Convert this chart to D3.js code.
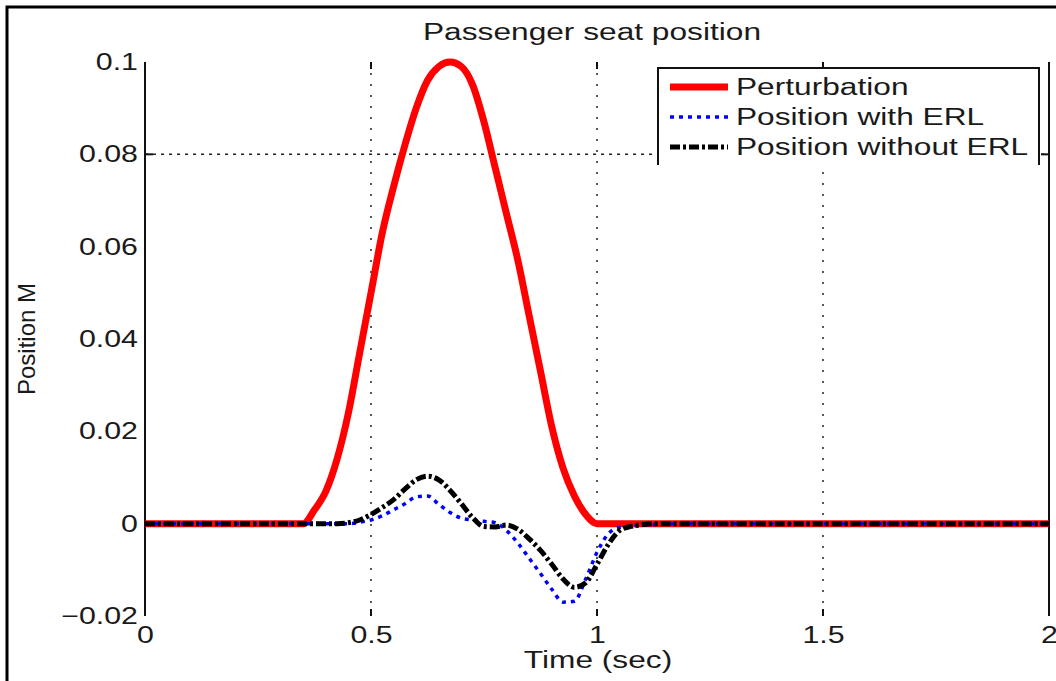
<!DOCTYPE html>
<html><head><meta charset="utf-8">
<script src="https://cdn.jsdelivr.net/npm/d3@7"></script>
<style>
html,body{margin:0;padding:0;background:#fff;}
svg{display:block;}
text{font-family:"Liberation Sans", Arial, Helvetica, sans-serif;fill:#1a1a1a;}
</style>
</head><body>
<svg id="chart" width="1056" height="681"></svg>
<script>
// ---- data ----
const time = [0, 0.1, 0.2, 0.3, 0.35, 0.375, 0.4, 0.425, 0.45, 0.475, 0.5, 0.525, 0.55, 0.575, 0.6, 0.625, 0.65, 0.675, 0.7, 0.725, 0.75, 0.775, 0.8, 0.825, 0.85, 0.875, 0.9, 0.925, 0.95, 0.975, 1.0, 1.025, 1.05, 1.075, 1.1, 1.125, 1.15, 1.2, 1.4, 1.6, 1.8, 2.0];
const perturbation = [0, 0, 0, 0, 0, 0.003, 0.007, 0.014, 0.024, 0.037, 0.050, 0.063, 0.073, 0.082, 0.090, 0.096, 0.099, 0.100, 0.099, 0.095, 0.087, 0.077, 0.067, 0.057, 0.045, 0.033, 0.021, 0.012, 0.006, 0.002, 0, 0, 0, 0, 0, 0, 0, 0, 0, 0, 0, 0];
const withERL = [0, 0, 0, 0, 0, 0, 0, 0, 0, 0.0003, 0.0008, 0.0017, 0.003, 0.0043, 0.0058, 0.006, 0.0042, 0.0024, 0.0012, 0.0008, 0.0005, 0.0002, -0.0015, -0.0042, -0.0075, -0.0108, -0.0142, -0.017, -0.0168, -0.012, -0.0062, -0.0022, -0.0008, -0.0006, -0.0003, -0.0002, 0, 0, 0, 0, 0, 0];
const withoutERL = [0, 0, 0, 0, 0, 0, 0, 0, 0.0002, 0.0008, 0.002, 0.0035, 0.0052, 0.0075, 0.0095, 0.0103, 0.0095, 0.0072, 0.0043, 0.0013, -0.0006, -0.0007, -0.0003, -0.0012, -0.0033, -0.0058, -0.0088, -0.012, -0.0138, -0.0128, -0.0088, -0.0045, -0.0015, -0.0006, -0.0002, 0, 0, 0, 0, 0, 0, 0];

const seriesNames = ["Perturbation", "Position with ERL", "Position without ERL"];
const xTicks = [0, 0.5, 1, 1.5, 2];
const xTickLabels = ["0", "0.5", "1", "1.5", "2"];
const yTicks = [0.1, 0.08, 0.06, 0.04, 0.02, 0, -0.02];
const yTickLabels = ["0.1", "0.08", "0.06", "0.04", "0.02", "0", "\u22120.02"];
const xGrid = [0.5, 1, 1.5];
const yGrid = [0.08];
const titleText = "Passenger seat position";
const xLabelText = "Time (sec)";
const yLabelText = "Position M";

// ---- layout ----
const svg = d3.select("#chart");
const L = 145, R = 1049, T = 62, B = 616;
const SX = 1.32;
const x = d3.scaleLinear().domain([0, 2]).range([L, R]);
const y = d3.scaleLinear().domain([-0.02, 0.1]).range([B, T]);

// outer frame (top + left)
svg.append("path").attr("d", "M7,681 V7 H1056").attr("fill", "none")
  .attr("stroke", "#000").attr("stroke-width", 3);

// grid
svg.append("g").selectAll("line").data(xGrid).join("line")
  .attr("x1", d => x(d)).attr("x2", d => x(d)).attr("y1", T).attr("y2", B)
  .attr("stroke", "#222").attr("stroke-width", 1.5).attr("stroke-dasharray", "2,9");
svg.append("g").selectAll("line").data(yGrid).join("line")
  .attr("x1", L).attr("x2", R).attr("y1", d => y(d)).attr("y2", d => y(d))
  .attr("stroke", "#222").attr("stroke-width", 1.5).attr("stroke-dasharray", "3,5");

// tick marks
const tk = svg.append("g").attr("stroke", "#111").attr("stroke-width", 2);
xTicks.forEach(d => {
  tk.append("line").attr("x1", x(d)).attr("x2", x(d)).attr("y1", T).attr("y2", T + 7);
  tk.append("line").attr("x1", x(d)).attr("x2", x(d)).attr("y1", B - 7).attr("y2", B);
});
yGrid.forEach(d => {
  tk.append("line").attr("x1", L).attr("x2", L + 8).attr("y1", y(d)).attr("y2", y(d));
  tk.append("line").attr("x1", R - 8).attr("x2", R).attr("y1", y(d)).attr("y2", y(d));
});

// axis lines (left + right)
svg.append("line").attr("x1", L).attr("x2", L).attr("y1", T).attr("y2", B)
  .attr("stroke", "#111").attr("stroke-width", 2);
svg.append("line").attr("x1", R).attr("x2", R).attr("y1", T).attr("y2", B)
  .attr("stroke", "#111").attr("stroke-width", 2);

// axes (labels)
const xAxis = svg.append("g").attr("transform", `translate(0,${B})`)
  .call(d3.axisBottom(x).tickValues(xTicks).tickFormat((d, i) => xTickLabels[i]).tickSize(0).tickPadding(11));
xAxis.select(".domain").remove();
xAxis.selectAll("text").attr("font-size", 23).attr("fill", "#1a1a1a")
  .attr("font-family", "Liberation Sans, Arial, sans-serif")
  .attr("transform", `scale(${SX},1)`);

const yAxis = svg.append("g").attr("transform", `translate(${L},0)`)
  .call(d3.axisLeft(y).tickValues(yTicks).tickFormat((d, i) => yTickLabels[i]).tickSize(0).tickPadding(5.3));
yAxis.select(".domain").remove();
yAxis.selectAll("text").attr("font-size", 23).attr("fill", "#1a1a1a")
  .attr("font-family", "Liberation Sans, Arial, sans-serif")
  .attr("transform", `scale(${SX},1)`);

// series
const line = d3.line().x((d, i) => x(time[i])).y(d => y(d)).curve(d3.curveMonotoneX);
svg.append("path").datum(perturbation).attr("d", line).attr("fill", "none")
  .attr("stroke", "#ff0000").attr("stroke-width", 7).attr("stroke-linejoin", "round");
svg.append("path").datum(withERL).attr("d", line).attr("fill", "none")
  .attr("stroke", "#0000ff").attr("stroke-width", 3.5).attr("stroke-dasharray", "4,5");
svg.append("path").datum(withoutERL).attr("d", line).attr("fill", "none")
  .attr("stroke", "#000").attr("stroke-width", 5).attr("stroke-dasharray", "10,3,3,3");

// legend
const lg = svg.append("g");
lg.append("rect").attr("x", 658).attr("y", 68).attr("width", 381).attr("height", 97).attr("fill", "#fff");
lg.append("path").attr("d", "M658,165 V68 H1039 V165").attr("fill", "none")
  .attr("stroke", "#111").attr("stroke-width", 2);
const legendStyles = [
  {color: "#ff0000", w: 7, dash: null},
  {color: "#0000ff", w: 3.5, dash: "4,5"},
  {color: "#000", w: 5, dash: "10,3,3,3"}
];
seriesNames.forEach((name, i) => {
  const yy = 87 + i * 30;
  const s = legendStyles[i];
  const ln = lg.append("line").attr("x1", 670).attr("x2", 728).attr("y1", yy).attr("y2", yy)
    .attr("stroke", s.color).attr("stroke-width", s.w);
  if (s.dash) ln.attr("stroke-dasharray", s.dash);
  lg.append("g").attr("transform", `translate(736,${yy + 8})`)
    .append("text").attr("font-size", 24).attr("transform", `scale(${SX},1)`).text(name);
});

// title & labels
svg.append("g").attr("transform", "translate(592,40)")
  .append("text").attr("text-anchor", "middle").attr("font-size", 24)
  .attr("transform", `scale(${SX},1)`).text(titleText);
svg.append("g").attr("transform", "translate(598,668)")
  .append("text").attr("text-anchor", "middle").attr("font-size", 24)
  .attr("transform", `scale(${SX},1)`).text(xLabelText);
svg.append("g").attr("transform", `translate(35,${(T + B) / 2}) rotate(-90)`)
  .append("text").attr("text-anchor", "middle").attr("font-size", 24).text(yLabelText);
</script>
</body></html>
